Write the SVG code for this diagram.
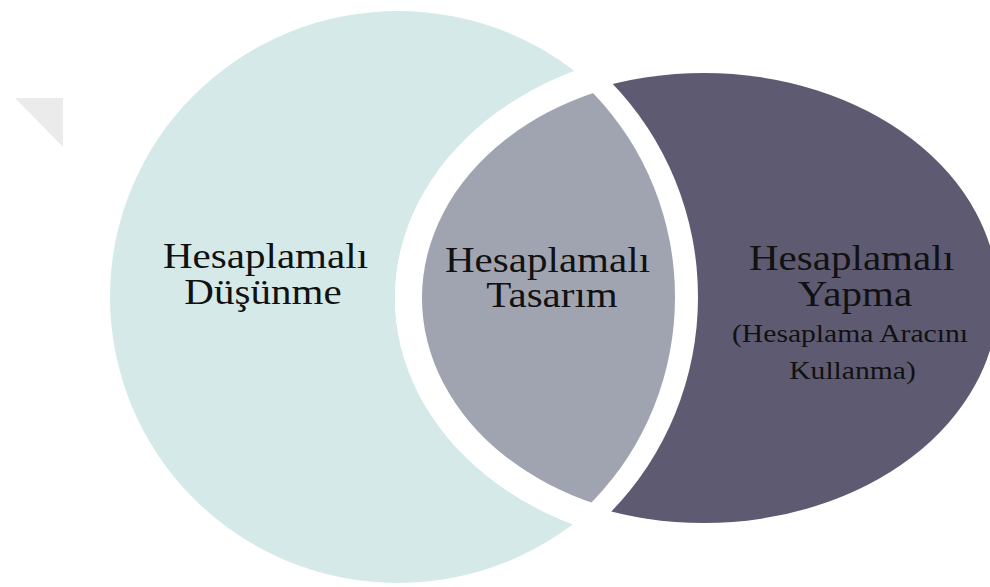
<svg xmlns="http://www.w3.org/2000/svg" width="990" height="587" viewBox="0 0 990 587">
  <style>
    .big { font-family: "Liberation Serif", "Times New Roman", serif; font-size: 36px; fill: #111111; text-anchor: middle; }
    .small { font-family: "Liberation Serif", "Times New Roman", serif; font-size: 26px; fill: #111111; text-anchor: middle; }
    .teal { fill: #D5E9E9; }
    .dark { fill: #5E5A71; }
    .gray { fill: #A0A4B0; }
    .band { fill: #FFFFFF; }
  </style>
  <defs>
    <clipPath id="clip-a-out"><ellipse cx="704" cy="298" rx="309" ry="250"/></clipPath>
    <clipPath id="clip-a-in"><ellipse cx="704" cy="298" rx="282" ry="223"/></clipPath>
  </defs>
  <rect x="0" y="0" width="990" height="587" fill="#FFFFFF"/>
  <polygon points="15,98 63,98 63,147" fill="#EBEBEB"/>

  <g id="node-hesaplamali-dusunme">
    <ellipse class="teal" cx="398" cy="297" rx="288" ry="286"/>
    <text class="big" transform="translate(265.5 268) scale(1.14 1)">Hesaplamalı</text>
    <text class="big" transform="translate(263 304) scale(1.14 1)">Düşünme</text>
  </g>

  <g id="node-hesaplamali-yapma">
    <ellipse class="band" cx="704" cy="298" rx="309" ry="250"/>
    <ellipse class="dark" cx="704" cy="298" rx="294" ry="225"/>
    <text class="big" transform="translate(851.5 270) scale(1.14 1)">Hesaplamalı</text>
    <text class="big" transform="translate(855 305.5) scale(1.14 1)">Yapma</text>
    <text class="small" transform="translate(850 342) scale(1.14 1)">(Hesaplama Aracını</text>
    <text class="small" transform="translate(852.5 379) scale(1.14 1)">Kullanma)</text>
  </g>

  <g id="node-hesaplamali-tasarim">
    <ellipse class="band" cx="398" cy="297" rx="300" ry="305" clip-path="url(#clip-a-out)"/>
    <ellipse class="gray" cx="398" cy="297" rx="277" ry="287" clip-path="url(#clip-a-in)"/>
    <text class="big" transform="translate(547.5 271.5) scale(1.14 1)">Hesaplamalı</text>
    <text class="big" transform="translate(552 307) scale(1.14 1)">Tasarım</text>
  </g>

  <g id="connectors"></g>
</svg>
